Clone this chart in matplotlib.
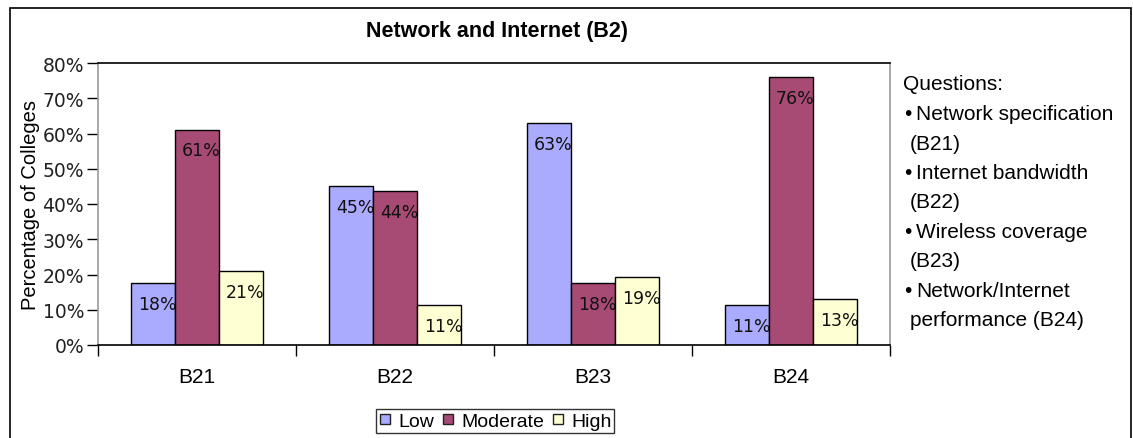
import matplotlib
matplotlib.use("Agg")
import matplotlib.pyplot as plt
import numpy as np
from matplotlib.lines import Line2D
from matplotlib.patches import Rectangle
from matplotlib.ticker import FixedLocator, PercentFormatter

# Survey results: share of colleges per rating level, by question
categories = ["B21", "B22", "B23", "B24"]
series_names = ["Low", "Moderate", "High"]
low = [17.6, 45.2, 63.0, 11.3]
moderate = [61.1, 43.6, 17.5, 76.0]
high = [20.9, 11.3, 19.2, 13.0]
yticks = [0, 10, 20, 30, 40, 50, 60, 70, 80]

title = "Network and Internet (B2)"
ylabel = "Percentage of Colleges"
question_lines = [
    ("", "Questions:"),
    ("\u2022", "Network specification"),
    ("", "(B21)"),
    ("\u2022", "Internet bandwidth"),
    ("", "(B22)"),
    ("\u2022", "Wireless coverage"),
    ("", "(B23)"),
    ("\u2022", "Network/Internet"),
    ("", "performance (B24)"),
]

colors = ["#AAAAFF", "#A84B74", "#FFFFD4"]
ARIAL = "Liberation Sans"
VERDANA = "DejaVu Sans"

W, H = 1133, 439
fig = plt.figure(figsize=(W / 100, H / 100), dpi=100)
fig.patch.set_facecolor("white")

def fx(px):
    return px / W

def fy(py):
    return 1 - py / H

# outer chart border
fig.add_artist(Rectangle((fx(10), fy(460)), fx(1131) - fx(10), fy(9) - fy(460),
                         transform=fig.transFigure, fill=False,
                         edgecolor="black", linewidth=1.2, clip_on=False))

ax = fig.add_axes([fx(98), fy(346), fx(890) - fx(98), fy(64) - fy(346)])

x = np.arange(len(categories))
width = 0.222
offsets = [-width, 0, width]
all_series = [low, moderate, high]

for vals, off, col, name in zip(all_series, offsets, colors, series_names):
    bars = ax.bar(x + off, vals, width=width, color=col, edgecolor="black",
                  linewidth=1.0, label=name, zorder=2)
    for bar, v in zip(bars, vals):
        t = ax.annotate(f"{v:.0f}%",
                        xy=(bar.get_x() + bar.get_width() / 2, bar.get_height()),
                        xytext=(3, -15), textcoords="offset points",
                        ha="center", va="center", fontsize=12.5,
                        family=VERDANA, color="#111111", zorder=3)
        t.set_clip_path(bar)

ax.set_xlim(-0.5, len(categories) - 0.5)
ax.set_ylim(0, 80)

ax.yaxis.set_major_locator(FixedLocator(yticks))
ax.yaxis.set_major_formatter(PercentFormatter(decimals=0))
ax.tick_params(axis="y", direction="out", length=8, width=1, pad=2,
               labelsize=13.5, colors="black")
for lab in ax.get_yticklabels():
    lab.set_family(VERDANA)
    lab.set_color("#222222")

ax.set_xticks(x)
ax.set_xticklabels(categories, family=ARIAL, fontsize=15)
ax.set_xticks(np.arange(-0.5, len(categories)), minor=True)
ax.tick_params(axis="x", which="major", length=0, pad=16)
ax.tick_params(axis="x", which="minor", direction="out", length=8, width=1)

for side in ["top", "bottom"]:
    ax.spines[side].set_color("black")
    ax.spines[side].set_linewidth(1.2)
for side in ["left", "right"]:
    ax.spines[side].set_color("#999999")
    ax.spines[side].set_linewidth(1.2)

ax.set_ylabel(ylabel, family=ARIAL, fontsize=14.5)
ax.yaxis.set_label_coords((40 - 98) / 792, 0.5)

fig.text(fx(497), fy(32), title, family=ARIAL, fontweight="bold",
         fontsize=15.5, ha="center", va="center")

handles = [Line2D([], [], linestyle="none", marker="s", markersize=7,
                  markerfacecolor=c, markeredgecolor="#222222",
                  markeredgewidth=1.0) for c in colors]
leg = fig.legend(handles, series_names, loc="center",
                 bbox_to_anchor=(fx(495), fy(422)), ncol=3,
                 prop={"family": ARIAL, "size": 14}, frameon=True,
                 fancybox=False, edgecolor="black", handlelength=0.7,
                 handletextpad=0.3, columnspacing=0.4, borderpad=0.15,
                 borderaxespad=0)
leg.get_frame().set_linewidth(1.0)

# question key on the right
y0, dy = 85, 29.5
for i, (bullet, text) in enumerate(question_lines):
    yy = fy(y0 + i * dy)
    if i == 0:
        fig.text(fx(903), yy, text, family=ARIAL, fontsize=15, va="center")
    elif bullet:
        fig.text(fx(904), yy, bullet, family=ARIAL, fontsize=15, va="center")
        fig.text(fx(916), yy, text, family=ARIAL, fontsize=15, va="center")
    else:
        fig.text(fx(910), yy, text, family=ARIAL, fontsize=15, va="center")

fig.savefig("out.png", dpi=100, facecolor="white")
